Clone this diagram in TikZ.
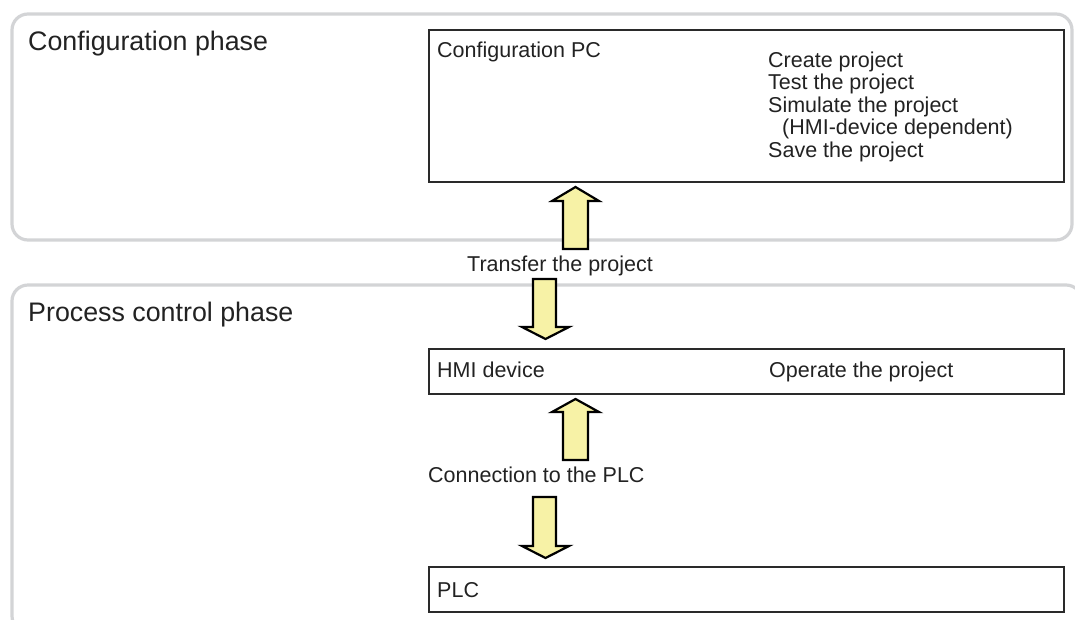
\documentclass[tikz,border=0pt]{standalone}
\usepackage{fontspec}
\setmainfont{Liberation Sans}
\definecolor{framegray}{HTML}{D3D4D6}
\definecolor{boxline}{HTML}{2A2A2A}
\definecolor{arrowfill}{HTML}{F7F2A6}
\definecolor{textcol}{HTML}{222222}
\tikzset{
  phaseframe/.style={draw=framegray, line width=3.2pt, rounded corners=16pt},
  devbox/.style={draw=boxline, line width=1.6pt, rectangle, anchor=north west, inner sep=0pt},
  bigtxt/.style={anchor=base west, inner sep=0pt, text=textcol, font=\fontsize{26.8}{30}\selectfont},
  smalltxt/.style={anchor=base west, inner sep=0pt, text=textcol, font=\fontsize{21.5}{22.4}\selectfont},
  blockarrow/.style={draw=black, fill=arrowfill, line width=2.2pt, line join=miter},
}
\begin{document}
\begin{tikzpicture}[x=1pt,y=-1pt]
\useasboundingbox (0,0) rectangle (1075,619);
\begin{scope}
\clip (0,0) rectangle (1075,619);
% phase frames
\draw[phaseframe] (12,14) rectangle (1072,240);
\draw[phaseframe] (12,285) rectangle (1082,632);
\end{scope}

\node[bigtxt] (cfgphase) at (28,50) {Configuration phase};
\node[bigtxt] (procphase) at (28,321) {Process control phase};

% boxes
\node[devbox, minimum width=635pt, minimum height=152pt] (pc) at (428,29) {};
\node[devbox, minimum width=635pt, minimum height=45pt] (hmi) at (428,348) {};
\node[devbox, minimum width=635pt, minimum height=45pt] (plc) at (428,566) {};

% box texts
\node[smalltxt] (pclabel) at (437,57) {Configuration PC};
\node[smalltxt] (t1) at (768,67.3) {Create project};
\node[smalltxt] (t2) at (768,89.5) {Test the project};
\node[smalltxt] (t3) at (768,112.2) {Simulate the project};
\node[smalltxt] (t4) at (782,134.5) {(HMI-device dependent)};
\node[smalltxt] (t5) at (768,157) {Save the project};

\node[smalltxt] (hmilabel) at (437,377) {HMI device};
\node[smalltxt] (operate) at (769,377) {Operate the project};
\node[smalltxt] (plclabel) at (437,597) {PLC};

\node[smalltxt] (transfer) at (467,271) {Transfer the project};
\node[smalltxt] (connection) at (428,482) {Connection to the PLC};

% block arrows
\draw[blockarrow] (563,249) -- (563,201) -- (552,201) -- (575.5,187) -- (599,201) -- (588,201) -- (588,249) -- cycle;
\draw[blockarrow] (533,279) -- (556,279) -- (556,327) -- (569,327) -- (545.5,339) -- (522,327) -- (533,327) -- cycle;
\draw[blockarrow] (563,460) -- (563,412) -- (552,412) -- (575.5,399) -- (599,412) -- (588,412) -- (588,460) -- cycle;
\draw[blockarrow] (533,497) -- (556,497) -- (556,546) -- (569,546) -- (545.5,558) -- (522,546) -- (533,546) -- cycle;
\end{tikzpicture}
\end{document}
